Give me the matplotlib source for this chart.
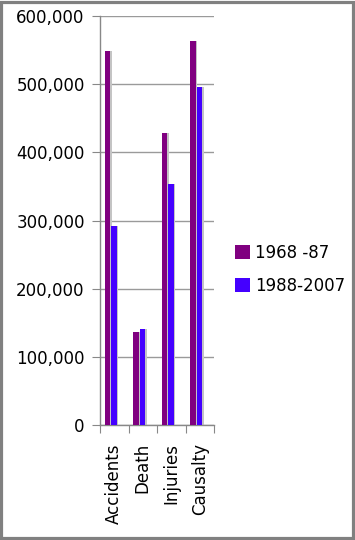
import matplotlib
matplotlib.use("Agg")
import matplotlib.pyplot as plt
import numpy as np
from matplotlib.patches import Rectangle
from matplotlib.ticker import FuncFormatter

categories = ["Accidents", "Death", "Injuries", "Causalty"]
series_names = ["1968 -87", "1988-2007"]
values_1968_87 = [548000, 136000, 428000, 564000]
values_1988_2007 = [292000, 141000, 353000, 496000]
colors = ["#800080", "#4400ff"]

plt.rcParams['font.family'] = ['DejaVu Sans']
fig = plt.figure(figsize=(3.55, 5.40), dpi=100)
ax = fig.add_axes([100/355, 1-425/540, 114/355, 409/540])

x = np.arange(len(categories))
w = 0.19
offsets = [-0.23, -0.01]
shadow_dx = 0.05
for vals, off, col, name in zip([values_1968_87, values_1988_2007], offsets, colors, series_names):
    ax.bar(x + off + shadow_dx, vals, width=w, color="#c4c4c4", zorder=2, linewidth=0)
    ax.bar(x + off, vals, width=w, color=col, zorder=3, linewidth=0, label=name)

ax.set_xlim(-0.5, 3.5)
ax.set_ylim(0, 600000)
ax.set_yticks(np.arange(0, 600001, 100000))
ax.yaxis.set_major_formatter(FuncFormatter(lambda v, p: f"{int(v):,}"))
ax.yaxis.grid(True, color="#9a9a9a", linewidth=1, zorder=0)
ax.set_axisbelow(True)

ax.set_xticks(np.arange(-0.5, 3.6, 1.0))
ax.set_xticklabels([])
ax.set_xticks(x, minor=True)
ax.set_xticklabels(categories, minor=True, rotation=90, fontsize=12, va="top")
ax.tick_params(axis="x", which="minor", length=0, pad=13)
ax.tick_params(axis="x", which="major", length=6, color="#888888", direction="out")
ax.tick_params(axis="y", length=6, color="#888888", labelsize=12, pad=5)

for s in ["top", "right"]:
    ax.spines[s].set_visible(False)
for s in ["left", "bottom"]:
    ax.spines[s].set_color("#888888")
    ax.spines[s].set_linewidth(1)

handles, labels = ax.get_legend_handles_labels()
fig.legend(handles, labels, loc="center left", bbox_to_anchor=(220/355, 1-269/540),
           frameon=False, fontsize=12, handlelength=0.9, handleheight=0.9,
           handletextpad=0.3, labelspacing=0.9)

fig.patches.append(Rectangle((0.003, 0.003), 0.992, 0.994, transform=fig.transFigure,
                             fill=False, edgecolor="#808080", linewidth=2.3, zorder=10))

fig.savefig("out.png", dpi=100)
